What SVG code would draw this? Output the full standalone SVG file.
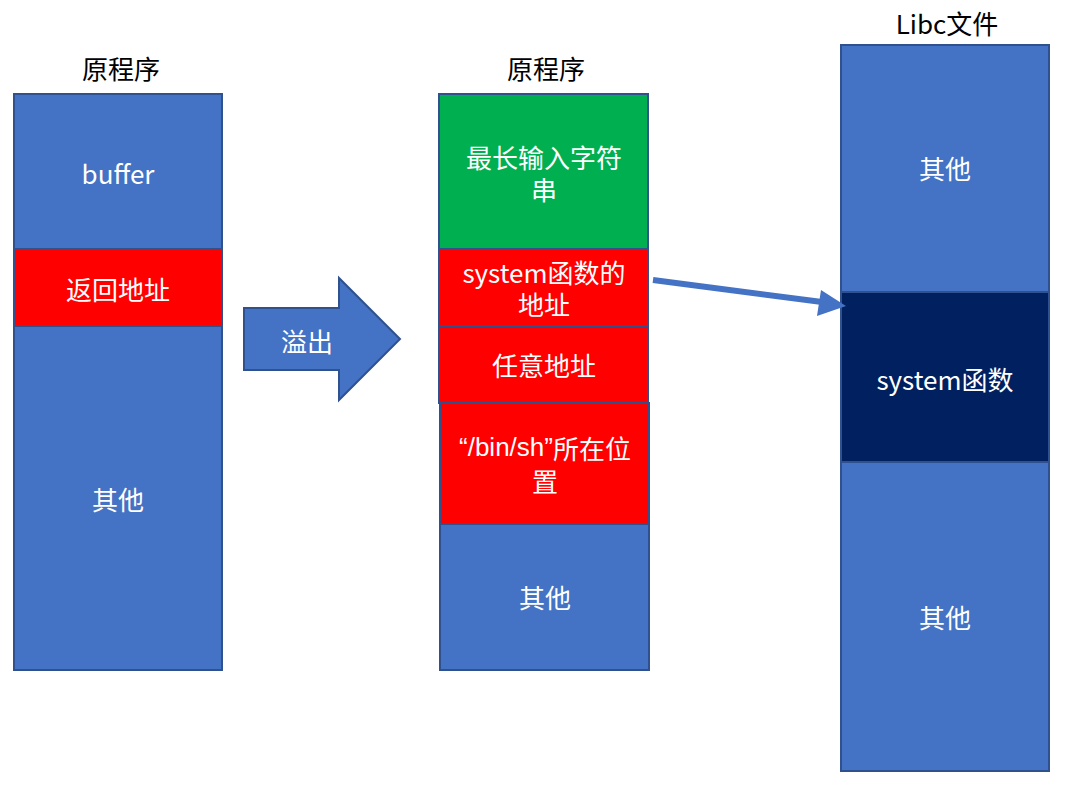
<svg xmlns="http://www.w3.org/2000/svg" width="1077" height="792" viewBox="0 0 1077 792">
<defs>
<style>
.b{stroke:#2F528F;stroke-width:2}
.blue{fill:#4472C4}
.red{fill:#FF0000}
.green{fill:#00B050}
.navy{fill:#002060}
text{font-family:"Noto Sans CJK SC","Liberation Sans",sans-serif;font-size:26px;text-anchor:middle;dominant-baseline:central}
.q{font-family:"Liberation Sans","Noto Sans CJK SC",sans-serif}
.w{fill:#FFFFFF}
.k{fill:#000000}
</style>
</defs>
<rect width="1077" height="792" fill="#FFFFFF"/>
<g id="title1"><text class="k" x="121" y="67">原程序</text></g>
<g id="title2"><text class="k" x="546" y="67">原程序</text></g>
<g id="title3"><text class="k" x="947" y="22">Libc文件</text></g>
<g id="left-buffer"><rect class="b blue" x="14" y="94" width="208" height="155"/><text class="w" x="118" y="172">buffer</text></g>
<g id="left-ret"><rect class="b red" x="14" y="249" width="208" height="77"/><text class="w" x="118" y="288">返回地址</text></g>
<g id="left-other"><rect class="b blue" x="14" y="326" width="208" height="344"/><text class="w" x="118" y="498">其他</text></g>
<g id="overflow"><path class="b blue" d="M244 308 H339 V278 L400 339 L339 400 V370 H244 Z"/><text class="w" x="307" y="340">溢出</text></g>
<g id="mid-input"><rect class="b green" x="439" y="94" width="209" height="155"/><text class="w" x="544" y="156">最长输入字符<tspan x="544" dy="32">串</tspan></text></g>
<g id="mid-sys"><rect class="b red" x="439" y="249" width="209" height="77"/><text class="w" x="544" y="271">system函数的<tspan x="544" dy="32">地址</tspan></text></g>
<g id="mid-any"><rect class="b red" x="439" y="326" width="209" height="77"/><text class="w" x="544" y="364">任意地址</text></g>
<g id="mid-binsh"><rect class="b red" x="440" y="403" width="209" height="121"/><text class="w" x="545" y="447"><tspan class="q">“/bin/sh”</tspan>所在位<tspan x="545" dy="33">置</tspan></text></g>
<g id="mid-other"><rect class="b blue" x="440" y="524" width="209" height="146"/><text class="w" x="545" y="596">其他</text></g>
<g id="right-other1"><rect class="b blue" x="841" y="45" width="208" height="247"/><text class="w" x="945" y="167">其他</text></g>
<g id="right-sys"><rect class="b navy" x="841" y="292" width="208" height="170"/><text class="w" x="945" y="378">system函数</text></g>
<g id="right-other2"><rect class="b blue" x="841" y="462" width="208" height="309"/><text class="w" x="945" y="616">其他</text></g>
<g id="connectors">
<line x1="653" y1="280" x2="822" y2="302" stroke="#4472C4" stroke-width="6"/>
<polygon points="846,306 817,316 821,290" fill="#4472C4"/>
</g>
</svg>
